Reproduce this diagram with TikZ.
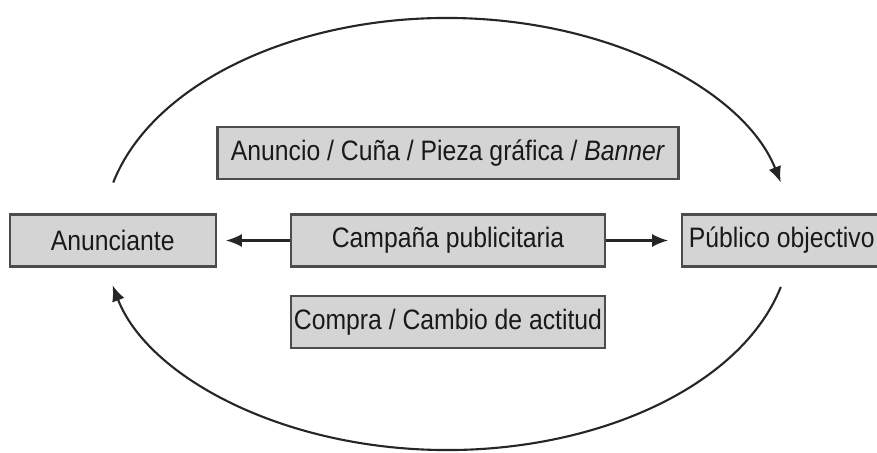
\documentclass[tikz,border=0pt]{standalone}
\usepackage{fontspec}
\setmainfont[FakeStretch=0.88]{Liberation Sans}
\usepackage{tikz}
\usetikzlibrary{arrows.meta,calc,positioning}

\tikzset{
  box/.style={draw=black!70,line width=1.3pt,fill=black!17,text=black!90,
              minimum height=1.04cm,inner sep=0pt,font=\fontsize{16}{18}\selectfont},
  flow/.style={->,line width=1.2pt,draw=black!85},
  >={Latex[length=3.2mm,width=2.6mm]}
}

\begin{document}
\begin{tikzpicture}
%
  \useasboundingbox (0,0) rectangle (17.54,-9.06);
%
  \node[box,minimum width=6.28cm] (camp) at (8.96,-4.81) {Campaña publicitaria};
  \node[box,minimum width=9.22cm,above=0.66cm of camp] (anuncio)
       {Anuncio / Cuña / Pieza gráfica / \textit{Banner}};
  \node[box,minimum width=6.28cm,below=0.54cm of camp] (compra)
       {Compra / Cambio de actitud};
  \node[box,minimum width=4.12cm,left=1.46cm of camp] (anun) {Anunciante};
  \node[box,minimum width=3.98cm,right=1.5cm of camp] (pub) {Público objectivo};
%
  \coordinate (mid) at ($(camp.center)+(-0.02,0.11)$);
%
  \draw[flow,shorten >=0.18cm] (camp) -- (anun);
  \draw[flow,shorten >=0.26cm] (camp) -- (pub);
  \draw[flow] ($(mid)+(166:6.88cm and 4.34cm)$)
        arc[start angle=166,end angle=14,x radius=6.88cm,y radius=4.34cm];
  \draw[flow] ($(mid)+(-14:6.88cm and 4.3cm)$)
        arc[start angle=-14,end angle=-166.5,x radius=6.88cm,y radius=4.3cm];

\end{tikzpicture}
\end{document}
